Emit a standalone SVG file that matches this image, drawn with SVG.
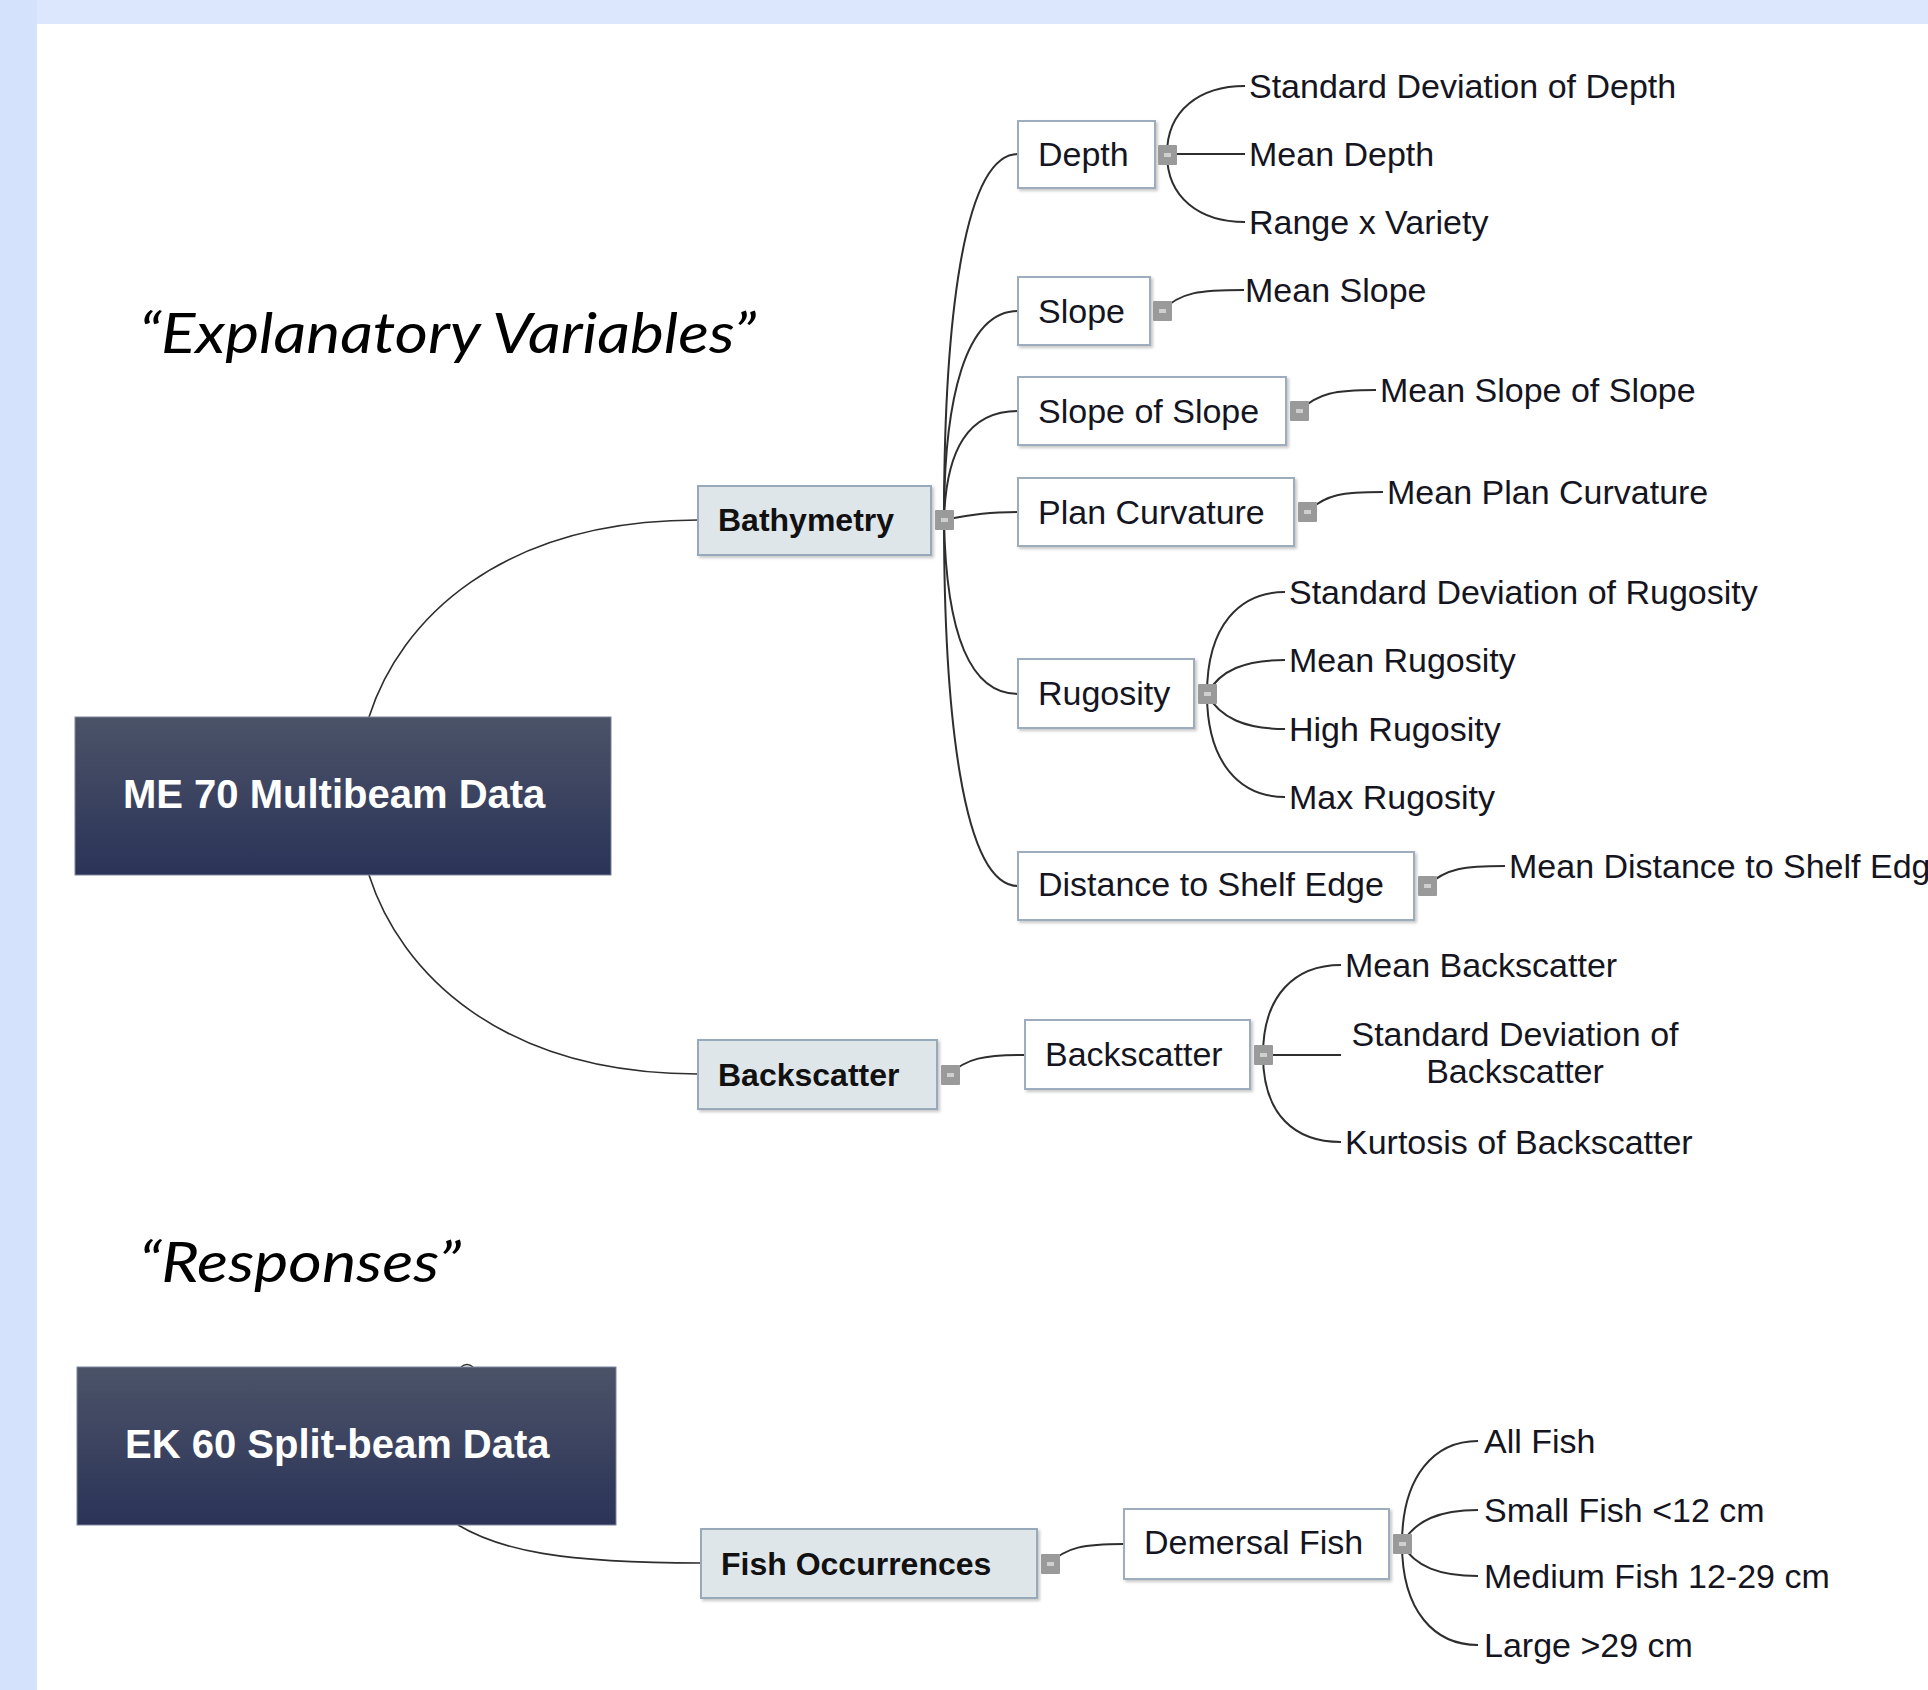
<svg xmlns="http://www.w3.org/2000/svg" width="1928" height="1690" viewBox="0 0 1928 1690">
<style>
.conn path{fill:none;stroke:#2e2e2e;stroke-width:2}
.conn .root{stroke-width:1.6}
.box{fill:#ffffff;stroke:#9dadbd;stroke-width:2;filter:url(#sh)}
.cat{fill:#dfe6ea;stroke:#98a9b9;stroke-width:2;filter:url(#sh)}
.rootbox{fill:url(#rg);stroke:#7b8398;stroke-width:1}
.t{font-family:"Liberation Sans",Arial,sans-serif;font-size:34px;fill:#15151f}
.b{font-family:"Liberation Sans",Arial,sans-serif;font-size:32px;font-weight:bold;fill:#111}
.r{font-family:"Liberation Sans",Arial,sans-serif;font-size:40px;font-weight:bold;fill:#ffffff}
.q{font-family:Lato,"Open Sans",sans-serif;font-size:57px;font-style:italic;fill:#000}
.h{fill:#9a9a9a}
.hi{fill:#cfcfcf}
</style>
<defs>
<linearGradient id="rg" x1="0" y1="0" x2="0" y2="1">
<stop offset="0" stop-color="#4b5368"/>
<stop offset="1" stop-color="#2b3358"/>
</linearGradient>
<filter id="sh" x="-5%" y="-10%" width="115%" height="130%">
<feDropShadow dx="2" dy="2" stdDeviation="1.5" flood-color="#000" flood-opacity="0.22"/>
</filter>
<g id="hdl"><rect class="h" x="0" y="0" width="19" height="20" rx="1"/><rect class="hi" x="6" y="8" width="7" height="4"/></g>
</defs>
<rect x="0" y="0" width="1928" height="1690" fill="#ffffff"/>
<rect x="0" y="0" width="1928" height="24" fill="#dce6fc"/>
<rect x="0" y="0" width="37" height="1690" fill="#d4e2fb"/>

<text class="q" x="139" y="353" textLength="617" lengthAdjust="spacingAndGlyphs">“Explanatory Variables”</text>
<text class="q" x="139" y="1282" textLength="322" lengthAdjust="spacingAndGlyphs">“Responses”</text>

<g id="connectors" class="conn">
<path class="root" d="M369,717 C400,620 500,520 698,520"/>
<path class="root" d="M369,875 C400,972 500,1074 698,1074"/>
<path class="root" d="M458,1525 C500,1550 560,1563 701,1563"/>
<path class="root" d="M461,1367 Q467,1362 473,1367"/>
<path d="M944,520 C944,330 962,154 1018,154"/>
<path d="M944,520 C944,400 965,311 1018,311"/>
<path d="M944,520 C946,450 968,411 1018,411"/>
<path d="M944,520 C975,514 990,512 1018,512"/>
<path d="M944,520 C946,630 968,694 1018,694"/>
<path d="M944,520 C944,710 962,886 1018,886"/>
<path d="M1167,154 C1167,110 1200,86 1245,86"/>
<path d="M1167,154 L1245,154"/>
<path d="M1167,154 C1167,198 1200,222 1245,222"/>
<path d="M1162,311 C1180,292 1200,290 1244,290"/>
<path d="M1299,411 C1318,393 1335,390 1376,390"/>
<path d="M1307,512 C1326,494 1343,492 1383,492"/>
<path d="M1207,694 C1207,625 1240,592 1285,592"/>
<path d="M1207,694 C1220,670 1245,660 1285,660"/>
<path d="M1207,694 C1220,718 1245,729 1285,729"/>
<path d="M1207,694 C1207,763 1240,797 1285,797"/>
<path d="M1427,886 C1446,868 1465,866 1505,866"/>
<path d="M950,1075 C965,1058 985,1055 1025,1055"/>
<path d="M1263,1055 C1263,995 1295,965 1341,965"/>
<path d="M1263,1055 L1341,1055"/>
<path d="M1263,1055 C1263,1115 1295,1142 1341,1142"/>
<path d="M1050,1564 C1065,1547 1085,1544 1124,1544"/>
<path d="M1402,1544 C1402,1475 1435,1441 1478,1441"/>
<path d="M1402,1544 C1415,1520 1440,1510 1478,1510"/>
<path d="M1402,1544 C1415,1567 1440,1576 1478,1576"/>
<path d="M1402,1544 C1402,1612 1435,1645 1478,1645"/>
</g>

<g id="node-me70"><rect class="rootbox" x="75" y="717" width="536" height="158"/><text class="r" x="123" y="808">ME 70 Multibeam Data</text></g>
<g id="node-ek60"><rect class="rootbox" x="77" y="1367" width="539" height="158"/><text class="r" x="125" y="1458">EK 60 Split-beam Data</text></g>

<g id="node-bathymetry"><rect class="cat" x="698" y="486" width="233" height="69"/><text class="b" x="718" y="531">Bathymetry</text><use href="#hdl" x="935" y="510"/></g>
<g id="node-backscatter1"><rect class="cat" x="698" y="1040" width="239" height="69"/><text class="b" x="718" y="1086">Backscatter</text><use href="#hdl" x="941" y="1065"/></g>
<g id="node-fishocc"><rect class="cat" x="701" y="1529" width="336" height="69"/><text class="b" x="721" y="1575">Fish Occurrences</text><use href="#hdl" x="1041" y="1554"/></g>

<g id="node-depth"><rect class="box" x="1018" y="121" width="137" height="67"/><text class="t" x="1038" y="166">Depth</text><use href="#hdl" x="1158" y="145"/></g>
<g id="node-slope"><rect class="box" x="1018" y="277" width="132" height="68"/><text class="t" x="1038" y="323">Slope</text><use href="#hdl" x="1153" y="301"/></g>
<g id="node-slopeofslope"><rect class="box" x="1018" y="377" width="268" height="68"/><text class="t" x="1038" y="423">Slope of Slope</text><use href="#hdl" x="1290" y="401"/></g>
<g id="node-plancurv"><rect class="box" x="1018" y="478" width="276" height="68"/><text class="t" x="1038" y="524">Plan Curvature</text><use href="#hdl" x="1298" y="502"/></g>
<g id="node-rugosity"><rect class="box" x="1018" y="659" width="176" height="69"/><text class="t" x="1038" y="705">Rugosity</text><use href="#hdl" x="1198" y="684"/></g>
<g id="node-distance"><rect class="box" x="1018" y="852" width="396" height="68"/><text class="t" x="1038" y="896">Distance to Shelf Edge</text><use href="#hdl" x="1418" y="876"/></g>
<g id="node-backscatter2"><rect class="box" x="1025" y="1020" width="225" height="69"/><text class="t" x="1045" y="1066">Backscatter</text><use href="#hdl" x="1254" y="1045"/></g>
<g id="node-demersal"><rect class="box" x="1124" y="1509" width="265" height="70"/><text class="t" x="1144" y="1554">Demersal Fish</text><use href="#hdl" x="1393" y="1534"/></g>

<g id="leaf-sddepth"><text class="t" x="1249" y="98">Standard Deviation of Depth</text></g>
<g id="leaf-meandepth"><text class="t" x="1249" y="166">Mean Depth</text></g>
<g id="leaf-range"><text class="t" x="1249" y="234">Range x Variety</text></g>
<g id="leaf-meanslope"><text class="t" x="1245" y="302">Mean Slope</text></g>
<g id="leaf-meanslopeofslope"><text class="t" x="1380" y="402">Mean Slope of Slope</text></g>
<g id="leaf-meanplancurv"><text class="t" x="1387" y="504">Mean Plan Curvature</text></g>
<g id="leaf-sdrug"><text class="t" x="1289" y="604">Standard Deviation of Rugosity</text></g>
<g id="leaf-meanrug"><text class="t" x="1289" y="672">Mean Rugosity</text></g>
<g id="leaf-highrug"><text class="t" x="1289" y="741">High Rugosity</text></g>
<g id="leaf-maxrug"><text class="t" x="1289" y="809">Max Rugosity</text></g>
<g id="leaf-meandist"><text class="t" x="1509" y="878">Mean Distance to Shelf Edge</text></g>
<g id="leaf-meanbs"><text class="t" x="1345" y="977">Mean Backscatter</text></g>
<g id="leaf-sdbs"><text class="t" x="1515" y="1046" text-anchor="middle">Standard Deviation of</text><text class="t" x="1515" y="1083" text-anchor="middle">Backscatter</text></g>
<g id="leaf-kurtbs"><text class="t" x="1345" y="1154">Kurtosis of Backscatter</text></g>
<g id="leaf-allfish"><text class="t" x="1484" y="1453">All Fish</text></g>
<g id="leaf-smallfish"><text class="t" x="1484" y="1522">Small Fish &lt;12 cm</text></g>
<g id="leaf-mediumfish"><text class="t" x="1484" y="1588">Medium Fish 12-29 cm</text></g>
<g id="leaf-largefish"><text class="t" x="1484" y="1657">Large &gt;29 cm</text></g>
</svg>
